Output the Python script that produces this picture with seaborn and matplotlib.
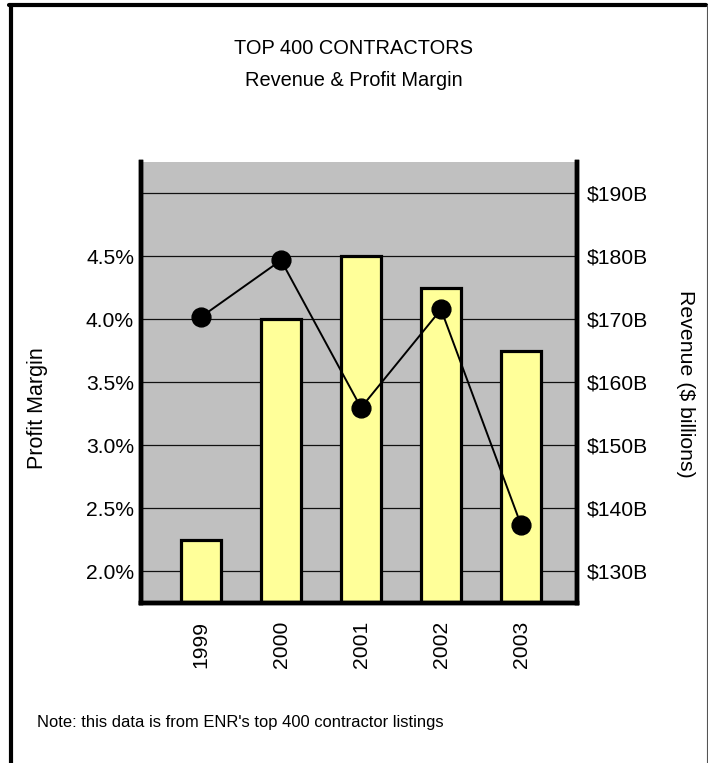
import numpy as np
import pandas as pd
import matplotlib as mpl
import matplotlib.pyplot as plt
import seaborn as sns
from matplotlib.lines import Line2D

# data
years = ['1999', '2000', '2001', '2002', '2003']
revenue = [135, 170, 180, 175, 165]          # $ billions (bars, right axis)
margin = [4.02, 4.47, 3.30, 4.08, 2.37]      # percent (line, left axis)

rev_ticks = [130, 140, 150, 160, 170, 180, 190]
margin_ticks = [2.0, 2.5, 3.0, 3.5, 4.0, 4.5]

df = pd.DataFrame({'year': years, 'revenue': revenue, 'margin': margin})

sns.set_style('white')
plt.rcParams['font.family'] = ['Liberation Sans', 'DejaVu Sans']
plt.rcParams['text.color'] = 'black'
plt.rcParams['xtick.color'] = 'black'
plt.rcParams['ytick.color'] = 'black'

fig = plt.figure(figsize=(7.08, 7.63), dpi=100)
ax = fig.add_axes([0.1992, 0.2097, 0.6158, 0.578])
ax.set_facecolor('#c0c0c0')
ax.set_axisbelow(True)

# bars: revenue
sns.barplot(data=df, x='year', y='revenue', color='#ffff99', saturation=1,
            width=0.5, edgecolor='black', linewidth=2.3, ax=ax)

# line: profit margin
ax2 = ax.twinx()
sns.pointplot(data=df, x='year', y='margin', color='black', markers='o',
              markersize=13.5, linewidth=1.4, ax=ax2)

ax.set_ylim(125, 195)
ax.set_yticks(rev_ticks)
ax.set_yticklabels(['${}B'.format(v) for v in rev_ticks])
ax.yaxis.tick_right()
ax.grid(axis='y', color='#111111', linewidth=0.9)
ax.grid(axis='x', visible=False)

ax2.set_ylim(1.75, 5.25)
ax2.set_yticks(margin_ticks)
ax2.set_yticklabels(['{:.1f}%'.format(v) for v in margin_ticks])
ax2.yaxis.tick_left()
ax2.grid(False)

ax.set_xlim(-0.75, 4.7)
ax2.set_xlim(-0.75, 4.7)

for a in (ax, ax2):
    a.set_xlabel('')
    a.set_ylabel('')
    a.spines['top'].set_visible(False)
    for s in ('left', 'right', 'bottom'):
        a.spines[s].set_linewidth(3.2)
        a.spines[s].set_color('black')

ax.tick_params(axis='y', length=0, pad=7, labelsize=15.2, labelcolor='black')
ax2.tick_params(axis='y', length=0, pad=5, labelsize=15.2, labelcolor='black')
ax.tick_params(axis='x', length=0, pad=13, labelsize=15.2, labelrotation=90, labelcolor='black')
ax2.tick_params(axis='x', length=0, labelbottom=False)

# titles and labels
fig.text(0.5, 1 - 49 / 763, 'TOP 400 CONTRACTORS', ha='center', va='center', fontsize=14.4)
fig.text(0.5, 1 - 80 / 763, 'Revenue & Profit Margin', ha='center', va='center', fontsize=14.4)
fig.text(38 / 708, 1 - 408 / 763, 'Profit Margin', rotation=90, ha='center', va='center', fontsize=15.5)
fig.text(685 / 708, 1 - 384 / 763, 'Revenue ($ billions)', rotation=270, ha='center', va='center', fontsize=15.3)
fig.text(37 / 708, 1 - 722 / 763, "Note: this data is from ENR's top 400 contractor listings",
         ha='left', va='center', fontsize=11.9)

# frame around the figure
fig.add_artist(Line2D([10.5 / 708, 10.5 / 708], [0, 1 - 4.5 / 763], color='black', linewidth=3, transform=fig.transFigure))
fig.add_artist(Line2D([9 / 708, 706 / 708], [1 - 4.5 / 763, 1 - 4.5 / 763], color='black', linewidth=3, transform=fig.transFigure))
fig.add_artist(Line2D([707 / 708, 707 / 708], [0, 1 - 4.5 / 763], color='#555555', linewidth=0.8, transform=fig.transFigure))

fig.savefig('out.png', dpi=100)
